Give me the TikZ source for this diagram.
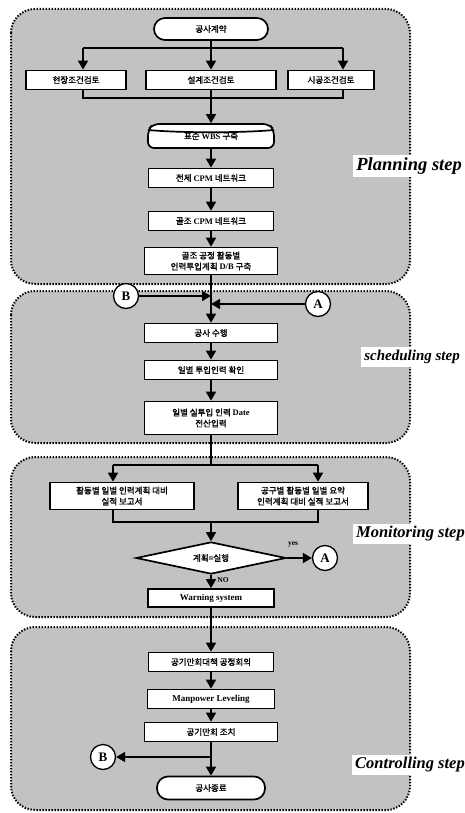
\documentclass[tikz,border=0pt]{standalone}
\usepackage{fontspec}
\setmainfont{Liberation Serif}
\newfontfamily\kr[FakeBold=1.4]{Noto Sans CJK KR}
\usetikzlibrary{arrows.meta, shapes.geometric}
\newcommand\en[1]{{\rmfamily\bfseries #1}}

\begin{document}
\begin{tikzpicture}[x=1pt, y=-1pt,
  stage/.style={draw=black, line width=2pt, dash pattern=on 1.4pt off 1.6pt,
    rounded corners=24pt, fill=black!24},
  box/.style={draw, line width=1.7pt, fill=white, minimum height=19pt,
    inner sep=1pt, align=center, font=\kr\fontsize{8.5}{11}\selectfont},
  term/.style={box, rounded corners=11pt},
  conn/.style={draw, circle, line width=1.3pt, fill=white, minimum size=25pt,
    inner sep=0pt, font=\bfseries\fontsize{13}{13}\selectfont},
  tag/.style={font=\bfseries\fontsize{7.5}{8}\selectfont, inner sep=1pt},
  steplabel/.style={fill=white, inner sep=3pt, anchor=east,
    font=\bfseries\itshape\fontsize{16.5}{17}\selectfont},
  flow/.style={line width=1.7pt, -{Triangle[length=9pt, width=10pt]}},
  wire/.style={line width=1.7pt}]
  \useasboundingbox (0,0) rectangle (465,813);

  % Step regions
  \draw[stage] (11,9) rectangle (410,284);
  \draw[stage] (11,291) rectangle (410,443);
  \draw[stage] (11,457) rectangle (410,617);
  \draw[stage] (11,627) rectangle (410,810);

  % Step labels
  \node[steplabel, font=\bfseries\itshape\fontsize{18.5}{19}\selectfont] (planlbl) at (465,166) {Planning step};
  \node[steplabel, font=\bfseries\itshape\fontsize{15}{16}\selectfont] (schedlbl) at (463,357) {scheduling step};
  \node[steplabel] (monlbl) at (468,534) {Monitoring step};
  \node[steplabel] (ctrllbl) at (468,765) {Controlling step};

  % Planning step
  \node[term, minimum width=114pt, minimum height=22pt] (start) at (211,29) {공사계약};
  \node[box, minimum width=100pt] (site) at (76,80) {현장조건검토};
  \node[box, minimum width=130pt] (design) at (211,80) {설계조건검토};
  \node[box, minimum width=86pt] (build) at (331,80) {시공조건검토};
  \coordinate (tl) at (83,48);
  \coordinate (tr) at (343,48);
  \coordinate (bl) at (83,98);
  \coordinate (br) at (343,98);

  % drum top of the WBS box
  \begin{scope}[shift={(211,136)}]
    \filldraw[wire, fill=white, rounded corners=6pt]
      (-63,12) -- (-63,-6) -- (-58,-12) -- (58,-12) -- (63,-6) -- (63,12) -- cycle;
    \draw[wire] (-63,-6) .. controls (-30,-3) and (30,-3) .. (63,-6);
  \end{scope}
  \node[box, draw=none, fill=none, minimum width=126pt, minimum height=24pt] (wbs) at (211,136) {\raisebox{-2pt}{표준 \en{WBS} 구축}};
  \node[box, minimum width=125pt] (cpmall) at (211,178) {전체 \en{CPM} 네트워크};
  \node[box, minimum width=125pt] (cpmframe) at (211,221) {골조 \en{CPM} 네트워크};
  \node[box, minimum width=133pt, minimum height=27pt] (db) at (211,261) {골조 공정 활동별\\인력투입계획 \en{D/B} 구축};

  % Scheduling step
  \node[conn] (B1) at (126,296) {B};
  \node[conn] (A1) at (318,304) {A};
  \node[box, minimum width=133pt] (perform) at (211,333) {공사 수행};
  \node[box, minimum width=133pt] (daily) at (211,370) {일별 투입인력 확인};
  \node[box, minimum width=133pt, minimum height=33pt] (input) at (211,418) {일별 실투입 인력 \en{Date}\\전산입력};

  % Monitoring step
  \coordinate (sl) at (113,465);
  \coordinate (sr) at (318,465);
  \node[box, minimum width=144pt, minimum height=27pt] (rep1) at (122,496) {활동별 일별 인력계획 대비\\실적 보고서};
  \node[box, minimum width=130pt, minimum height=27pt] (rep2) at (303,496) {공구별 활동별 일별 요약\\인력계획 대비 실적 보고서};
  \coordinate (jl) at (113,522);
  \coordinate (jr) at (318,522);
  \node[box, diamond, aspect=4.5, inner sep=0pt, minimum width=150pt, minimum height=32pt] (check) at (211,558) {계획=실행};
  \node[conn] (A2) at (325,558) {A};
  \node[tag] (yes) at (293,545) {yes};
  \node[tag] (no) at (223,580) {NO};
  \node[box, minimum width=126pt, minimum height=18pt, font=\bfseries\fontsize{9}{11}\selectfont] (warn) at (211,598) {Warning system};

  % Controlling step
  \node[box, minimum width=125pt] (rally) at (211,662) {공기만회대책 공정회의};
  \node[box, minimum width=127pt, font=\bfseries\fontsize{9}{11}\selectfont] (level) at (211,699) {Manpower Leveling};
  \node[box, minimum width=133pt] (action) at (211,732) {공기만회 조치};
  \node[conn] (B2) at (103,757) {B};
  \node[term, minimum width=108pt, minimum height=23pt] (finish) at (211,788) {공사종료};

  % Connectors
  \draw[flow] (start) -- (design);
  \draw[wire] (tl) -- (tr);
  \draw[flow] (tl) -- (tl |- site.north);
  \draw[flow] (tr) -- (tr |- build.north);
  \draw[wire] (bl |- site.south) -- (bl) -- (br) -- (br |- build.south);
  \draw[flow] (design) -- (wbs);
  \draw[flow] (wbs) -- (cpmall);
  \draw[flow] (cpmall) -- (cpmframe);
  \draw[flow] (cpmframe) -- (db);
  \draw[flow] (db) -- (perform);
  \draw[flow] (B1) -- (B1 -| db.south);
  \draw[flow] (A1) -- (A1 -| db.south);
  \draw[flow] (perform) -- (daily);
  \draw[flow] (daily) -- (input);
  \draw[wire] (input) -- (input.south |- sl);
  \draw[wire] (sl) -- (sr);
  \draw[flow] (sl) -- (sl |- rep1.north);
  \draw[flow] (sr) -- (sr |- rep2.north);
  \draw[wire] (jl |- rep1.south) -- (jl) -- (jr) -- (jr |- rep2.south);
  \draw[flow] (check.north |- jl) -- (check);
  \draw[flow] (check) -- (A2);
  \draw[flow] (check) -- (warn);
  \draw[flow] (warn) -- (rally);
  \draw[flow] (rally) -- (level);
  \draw[flow] (level) -- (action);
  \draw[flow] (action) -- (finish);
  \draw[flow] (action.south |- B2) -- (B2);
\end{tikzpicture}
\end{document}
